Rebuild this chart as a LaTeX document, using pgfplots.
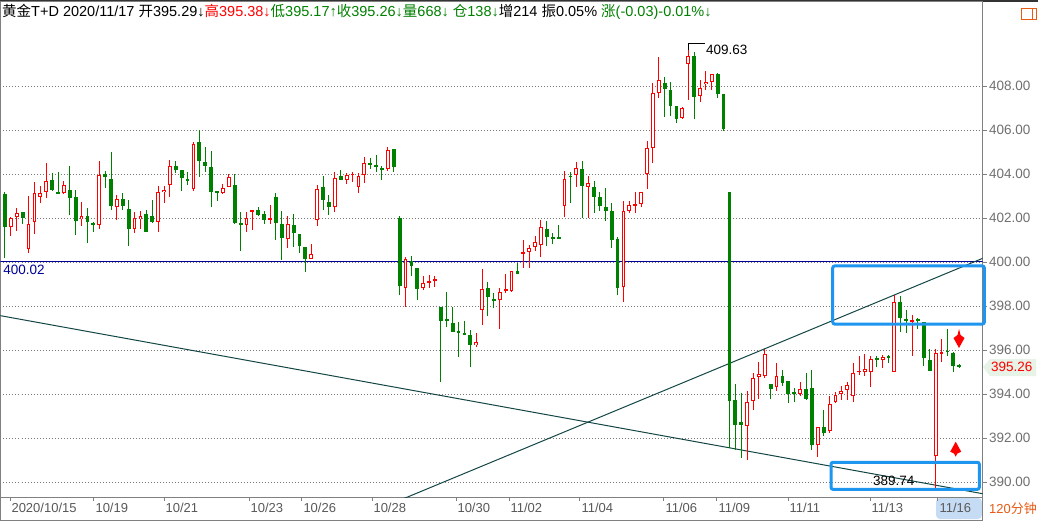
\documentclass[border=0pt]{standalone}
\usepackage{fontspec}
\setmainfont{Liberation Sans}
\newfontfamily\cjk{Noto Sans CJK SC}
\usepackage{pgfplots}
\usepackage{pgfplotstable}
\pgfplotsset{compat=1.18}
\definecolor{cgreen}{RGB}{0,128,0}
\definecolor{cred}{RGB}{255,0,0}
\definecolor{axgray}{RGB}{128,128,128}
\definecolor{gridgray}{RGB}{120,120,120}
\definecolor{labgray}{RGB}{112,112,112}
\definecolor{navyl}{RGB}{0,0,150}
\definecolor{trend}{RGB}{20,70,70}
\definecolor{boxblue}{RGB}{30,150,240}
\definecolor{hlblue}{RGB}{198,220,244}
\definecolor{orng}{RGB}{232,90,20}
\definecolor{pgreen}{RGB}{230,243,230}

\pgfplotstableread{
i o h l c
1 401.58 402.03 401.17 401.98
2 402.03 402.45 401.39 402.23
4 400.59 403.02 400.39 401.73
5 401.82 403.65 401.26 403.15
6 402.95 403.47 402.67 403.15
7 403.17 404.52 402.89 403.68
10 403.12 403.70 403.08 403.52
13 401.95 402.74 401.62 402.09
16 401.68 404.61 401.52 403.97
19 402.50 403.05 401.89 402.86
22 401.50 402.27 401.30 402.02
23 401.95 402.32 401.50 402.08
26 401.82 403.47 401.36 403.20
27 403.18 403.47 402.67 403.29
28 403.50 404.65 402.94 404.36
32 403.32 405.45 403.23 405.38
37 403.14 403.55 403.09 403.38
38 403.41 404.00 403.39 403.86
41 401.68 402.29 401.35 401.98
42 402.27 402.36 401.44 402.36
45 401.95 402.59 401.74 401.97
48 401.05 402.09 400.62 401.73
52 400.14 400.83 400.14 400.36
53 401.89 403.48 401.62 403.32
56 402.48 404.09 402.27 403.82
58 403.73 404.05 403.53 403.97
59 403.97 404.11 403.62 404.00
60 403.39 404.03 403.14 403.91
61 403.95 404.79 403.58 404.50
65 404.21 405.23 404.15 405.09
68 398.82 400.21 397.97 400.15
71 398.82 399.35 398.74 399.05
72 399.08 399.41 398.80 399.14
73 399.18 399.35 398.85 399.20
80 396.21 396.79 396.12 396.36
81 397.80 399.70 397.12 398.77
84 398.27 398.80 396.97 398.64
85 398.68 399.45 398.58 398.77
86 398.70 399.59 398.65 399.59
88 400.41 401.02 399.71 400.45
89 400.45 400.79 399.71 400.64
90 400.68 401.18 400.50 400.91
91 400.77 401.92 400.21 401.59
95 402.53 404.15 402.03 403.77
97 403.94 404.53 403.39 404.27
99 403.41 403.91 402.02 403.61
105 398.86 402.79 398.20 402.33
106 402.30 402.79 402.21 402.61
107 402.59 403.20 402.21 402.61
108 402.65 403.18 402.52 403.17
109 404.02 405.52 403.33 405.18
110 405.20 408.15 404.52 407.67
111 407.67 409.33 407.47 408.27
115 406.56 407.06 406.48 406.98
116 409.02 409.63 407.35 409.36
118 407.56 408.26 407.29 407.89
119 408.08 408.70 407.82 408.18
120 408.17 408.55 407.82 408.55
126 392.53 394.14 390.98 393.64
127 393.70 394.97 393.27 394.71
128 394.77 395.47 393.79 394.92
129 394.80 396.05 394.74 395.83
131 394.33 395.39 394.15 394.83
135 394.02 394.56 393.92 394.23
138 391.67 392.50 391.14 392.50
140 392.30 393.92 392.23 393.55
141 393.64 394.08 393.59 393.95
142 394.02 394.38 393.74 394.15
143 394.17 394.55 393.74 394.42
144 393.89 395.39 393.62 394.95
145 395.03 395.74 394.86 395.05
146 395.02 395.83 394.83 395.15
147 395.00 395.74 394.30 395.59
149 395.56 395.76 395.18 395.70
151 395.02 398.52 394.98 398.17
154 397.30 397.61 395.71 397.36
158 391.17 396.06 389.74 395.86
159 395.85 396.50 395.44 395.88
}\up

\pgfplotstableread{
i o h l c
0 403.11 403.17 400.18 401.58
3 402.29 402.29 401.74 402.00
8 403.73 404.03 403.24 403.29
9 403.20 404.10 403.12 403.12
11 403.29 404.38 402.12 402.89
12 402.95 403.29 401.24 401.85
14 402.10 402.45 400.85 401.82
15 401.79 401.83 401.35 401.71
17 404.00 404.12 403.38 403.85
18 403.79 405.02 402.38 402.53
20 402.86 403.15 402.38 402.53
21 402.42 402.80 400.71 401.48
24 402.18 402.35 401.35 401.35
25 402.09 402.80 401.77 401.82
29 404.38 404.58 404.05 404.17
30 404.18 404.18 403.21 403.80
31 403.77 404.10 403.50 403.73
33 405.44 405.98 403.85 404.58
34 404.56 405.24 404.11 404.35
35 404.33 405.03 402.52 403.17
36 403.20 403.24 402.76 403.17
39 403.52 404.00 401.74 401.77
40 401.77 402.29 400.48 401.68
43 402.36 402.50 402.08 402.12
44 402.18 402.32 401.71 401.91
46 402.95 403.14 400.98 401.77
47 401.73 402.33 400.08 401.09
49 401.68 402.17 400.67 401.30
50 401.29 401.29 400.41 400.71
51 400.70 400.70 399.53 400.12
54 403.41 403.92 402.35 402.82
55 402.74 403.06 402.15 402.48
57 403.92 404.20 403.71 403.71
62 404.47 404.74 404.24 404.45
63 404.41 404.88 404.11 404.30
64 404.27 404.38 403.74 404.23
66 405.14 405.14 404.11 404.30
67 402.02 402.11 398.52 398.89
69 400.05 400.29 399.35 399.80
70 399.74 399.74 398.26 398.79
74 397.97 397.97 394.53 397.30
75 397.39 398.62 397.03 397.36
76 397.24 397.97 396.80 396.80
77 396.88 397.27 395.67 396.80
78 396.79 397.33 396.67 396.67
79 396.70 396.91 395.21 396.21
82 398.83 399.11 397.53 398.39
83 398.29 398.59 397.89 398.27
87 399.59 399.95 399.45 399.45
92 401.50 401.88 400.71 401.14
93 401.11 401.32 400.80 401.09
94 401.12 401.70 401.05 401.06
96 403.90 404.09 402.67 403.88
98 404.23 404.61 402.02 403.44
100 403.42 403.70 402.21 402.94
101 402.97 403.20 402.30 402.53
102 402.52 403.38 401.85 402.30
103 402.33 402.70 400.62 400.98
104 401.05 401.12 398.52 398.80
112 408.15 408.39 406.59 407.88
113 407.82 408.18 406.62 407.11
114 407.09 407.09 406.33 406.52
117 409.36 409.55 406.52 407.52
121 408.56 408.61 407.47 407.65
122 407.64 407.64 405.97 406.06
123 403.20 403.20 391.55 393.67
124 393.74 394.47 391.47 392.58
125 392.73 394.05 391.09 392.58
130 394.47 394.47 393.79 394.24
132 394.83 395.09 394.38 394.48
133 394.58 394.58 393.58 394.00
134 394.06 394.27 393.62 394.03
136 394.24 394.94 393.74 393.79
137 394.27 395.11 391.47 391.67
139 392.52 393.29 392.11 392.23
148 395.62 395.71 395.21 395.59
150 395.71 395.76 395.39 395.68
152 398.20 398.47 396.82 397.44
153 397.38 397.83 396.77 397.35
155 397.39 397.45 396.97 397.36
156 397.26 397.26 395.29 395.62
157 395.56 396.05 395.06 395.06
160 395.97 396.97 395.71 395.91
161 395.88 395.91 394.98 395.26
162 395.29 395.38 395.17 395.26
}\down

\pgfplotsset{
  candle/.style={draw=none, mark=none, forget plot,
    error bars/y dir=both, error bars/y explicit, error bars/error mark=none,
    error bars/error bar style={draw=#1}},
}

\begin{document}
\begin{tikzpicture}
\useasboundingbox (0,0) rectangle (1038pt,523pt);
\fill[white] (0,0) rectangle (1038pt,523pt);
% top band
\fill[black!80] (0,521pt) rectangle (1038pt,523pt);
% highlight behind last date
\fill[hlblue, rounded corners=4pt] (936pt,4pt) rectangle (982pt,25pt);
% date strip frame
\draw[axgray, line width=1pt] (0.5pt,3pt) rectangle (982.5pt,26pt);
\begin{axis}[
  at={(0.5pt,26pt)}, anchor=south west,
  width=982pt, height=496pt, scale only axis,
  xmin=-0.764, xmax=165.96, ymin=389.318, ymax=411.864,
  axis line style={draw=axgray, line width=1pt},
  clip mode=individual,
  ytick={390,392,...,408}, ytick pos=right, yticklabel pos=right,
  /pgf/number format/fixed,
  /pgf/number format/fixed zerofill,
  /pgf/number format/precision=2,
  /pgf/number format/assume math mode=true,
  y tick label style={font=\fontsize{13.5}{14}\selectfont, text=labgray, anchor=west, xshift=-1pt},
  tick align=outside, major tick length=4pt,
  tick style={axgray, line width=1pt},
  ymajorgrids, grid style={gridgray, line width=1pt, dash pattern=on 1pt off 2pt},
  xtick={0.85,15.11,27.0,41.43,50.42,62.31,76.57,85.57,97.62,111.88,120.88,132.94,146.86,158.4},
  xticklabels={2020/10/15,10/19,10/21,10/23,10/26,10/28,10/30,11/02,11/04,11/06,11/09,11/11,11/13,11/16},
  xtick pos=bottom,
  x tick label style={font=\fontsize{13}{14}\selectfont, text=black!65, anchor=north west, xshift=-2pt, yshift=1pt},
]
% 400.02 line
\addplot[navyl, line width=1.4pt, forget plot] coordinates {(-2,400.02) (168,400.02)};
% trend lines
\addplot[trend, line width=1pt, forget plot] coordinates {(60,388.39) (167,400.28)};
\addplot[trend, line width=1pt, forget plot] coordinates {(-2,397.62) (168,389.37)};
% green candles
\addplot[candle=cgreen, error bars/error bar style={line width=1pt}]
  table[x=i, y expr={(\thisrow{h}+\thisrow{l})/2}, y error expr={(\thisrow{h}-\thisrow{l})/2}] {\down};
\addplot[candle=cgreen, error bars/error bar style={line width=3.8pt}]
  table[x=i, y expr={(\thisrow{o}+\thisrow{c})/2}, y error expr={max(abs(\thisrow{o}-\thisrow{c})/2,0.025)}] {\down};
% red candles
\addplot[candle=cred, error bars/error bar style={line width=1pt}]
  table[x=i, y expr={(\thisrow{h}+\thisrow{l})/2}, y error expr={(\thisrow{h}-\thisrow{l})/2}] {\up};
\addplot[candle=cred, error bars/error bar style={line width=3.8pt}]
  table[x=i, y expr={(\thisrow{o}+\thisrow{c})/2}, y error expr={max(abs(\thisrow{o}-\thisrow{c})/2,0.025)}] {\up};
\addplot[candle=white, error bars/error bar style={line width=1.8pt}]
  table[x=i, y expr={(\thisrow{o}+\thisrow{c})/2}, y error expr={max(abs(\thisrow{o}-\thisrow{c})/2-0.045,0)}] {\up};
% boxes
\draw[boxblue, line width=3pt, rounded corners=2pt] (axis cs:140.53,397.18) rectangle (axis cs:166.27,399.82);
\draw[boxblue, line width=3pt, rounded corners=2pt] (axis cs:140.24,389.668) rectangle (axis cs:165.42,390.895);
% high / low labels
\draw[black, line width=1pt] (axis cs:115.96,409.63) -- (axis cs:115.96,409.94) -- (axis cs:118.85,409.94);
\node[anchor=west, inner sep=0pt, font=\fontsize{13.5}{14}\selectfont] at (axis cs:119.0,409.64) {409.63};
\node[inner sep=0pt, font=\fontsize{13.5}{14}\selectfont] at (axis cs:150.9,390.045) {389.74};
\node[anchor=west, inner sep=0pt, text=navyl, font=\fontsize{13.5}{14}\selectfont] at (axis cs:-0.3,399.64) {400.02};
% red arrows
\fill[red] (axis cs:161.97,396.955) -- ++(1.5pt,-6pt) -- ++(4pt,-3pt) -- ++(-5.5pt,-10pt) -- ++(-5.5pt,10pt) -- ++(4pt,3pt) -- cycle;
\fill[red] (axis cs:161.41,391.832) -- ++(5.5pt,-10pt) -- ++(-4pt,-2pt) -- ++(-1.5pt,-3pt) -- ++(-1.5pt,3pt) -- ++(-4pt,2pt) -- cycle;
\end{axis}
% current price marker
\fill[pgreen] (983pt,156pt) -- (990pt,164pt) -- (1036pt,164pt) -- (1036pt,147pt) -- (990pt,147pt) -- cycle;
\node[anchor=west, inner sep=0pt, text=red, font=\fontsize{13.5}{14}\selectfont] at (991pt,156pt) {395.26};
% 120 minutes
\node[anchor=west, inner sep=0pt, text=orng, font=\fontsize{13}{14}\selectfont] at (989pt,14pt) {120{\cjk 分钟}};
% top right icon
\draw[orng, line width=1pt] (1021pt,503.7pt) rectangle (1036.5pt,514.7pt);
\draw[orng, line width=1pt] (1032pt,503.7pt) -- (1032pt,514.7pt);
% title
\node[anchor=west, inner sep=0pt, font=\fontsize{14.5}{15}\selectfont] at (2pt,511pt) {%
{\cjk 黄金}T+D 2020/11/17 {\cjk 开}395.29↓\textcolor{red}{{\cjk 高}395.38↓}\textcolor{cgreen}{{\cjk 低}395.17↑{\cjk 收}395.26↓{\cjk 量}668↓ {\cjk 仓}138↓}{\cjk 增}214 {\cjk 振}0.05\% \textcolor{cgreen}{{\cjk 涨}(-0.03)-0.01\%↓}};
\end{tikzpicture}
\end{document}
